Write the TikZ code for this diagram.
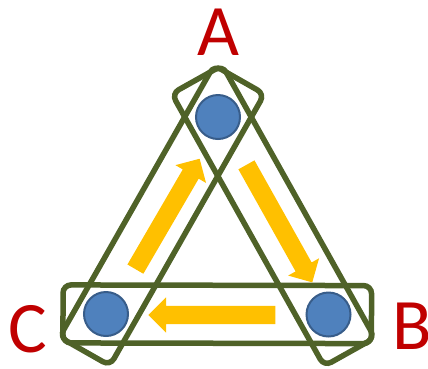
\documentclass[tikz,border=0pt]{standalone}
\usepackage{fontspec}
\setmainfont{Carlito}
\usetikzlibrary{calc,shapes.arrows}
\definecolor{olivegreen}{HTML}{4F6228}
\definecolor{dotblue}{HTML}{4F81BD}
\definecolor{dotedge}{HTML}{385D8A}
\definecolor{arrowyellow}{HTML}{FFC000}
\definecolor{labelred}{HTML}{C00000}
\tikzset{
  dot/.style={circle, fill=dotblue, draw=dotedge, line width=2pt, minimum size=44pt, inner sep=0pt},
  pairbox/.style={draw=olivegreen, line width=5.5pt, rounded corners=8pt, rectangle, minimum height=58pt, inner sep=0pt},
  flowarrow/.style={single arrow, fill=arrowyellow, draw=none, inner xsep=0pt, inner ysep=9pt, single arrow head extend=8.5pt, single arrow head indent=0pt},
  vlabel/.style={text=labelred, font=\fontsize{72.5}{80}\selectfont, inner sep=0pt, anchor=base}
}
\begin{document}
\begin{tikzpicture}[x=1pt,y=-1pt]
\useasboundingbox (0,0) rectangle (428,368);
\coordinate (a) at (218,117);
\coordinate (b) at (328.5,314.5);
\coordinate (c) at (106,314);
% pair boxes
\path let \p1=($(b)-(a)$), \n1={atan2(\y1,\x1)}, \n2={veclen(\x1,\y1)} in
  node[pairbox, rotate=\n1, minimum width={\n2+86pt}] (boxab) at ($(a)!0.5!(b)$) {};
\path let \p1=($(a)-(c)$), \n1={atan2(\y1,\x1)}, \n2={veclen(\x1,\y1)} in
  node[pairbox, rotate=\n1, minimum width={\n2+86pt}] (boxca) at ($(c)!0.5!(a)$) {};
\path let \p1=($(b)-(c)$), \n1={atan2(\y1,\x1)}, \n2={veclen(\x1,\y1)} in
  node[pairbox, rotate=\n1, minimum width={\n2+86pt}] (boxbc) at ($(c)!0.5!(b)$) {};
% dots
\node[dot] (dota) at (a) {};
\node[dot] (dotb) at (b) {};
\node[dot] (dotc) at (c) {};
% arrows
\node[flowarrow, minimum height=127.7pt, rotate=59.8] (arrca) at (165.2,217.9) {};
\node[flowarrow, minimum height=134.7pt, rotate=-60.75] (arrab) at (277.1,219.6) {};
\node[flowarrow, minimum height=127pt, rotate=180] (arrbc) at (216.5,315) {};
% labels
\node[vlabel] (laba) at (218,55) {A};
\node[vlabel] (labb) at (412,349.3) {B};
\node[vlabel] (labc) at (27.5,352) {C};
\end{tikzpicture}
\end{document}
